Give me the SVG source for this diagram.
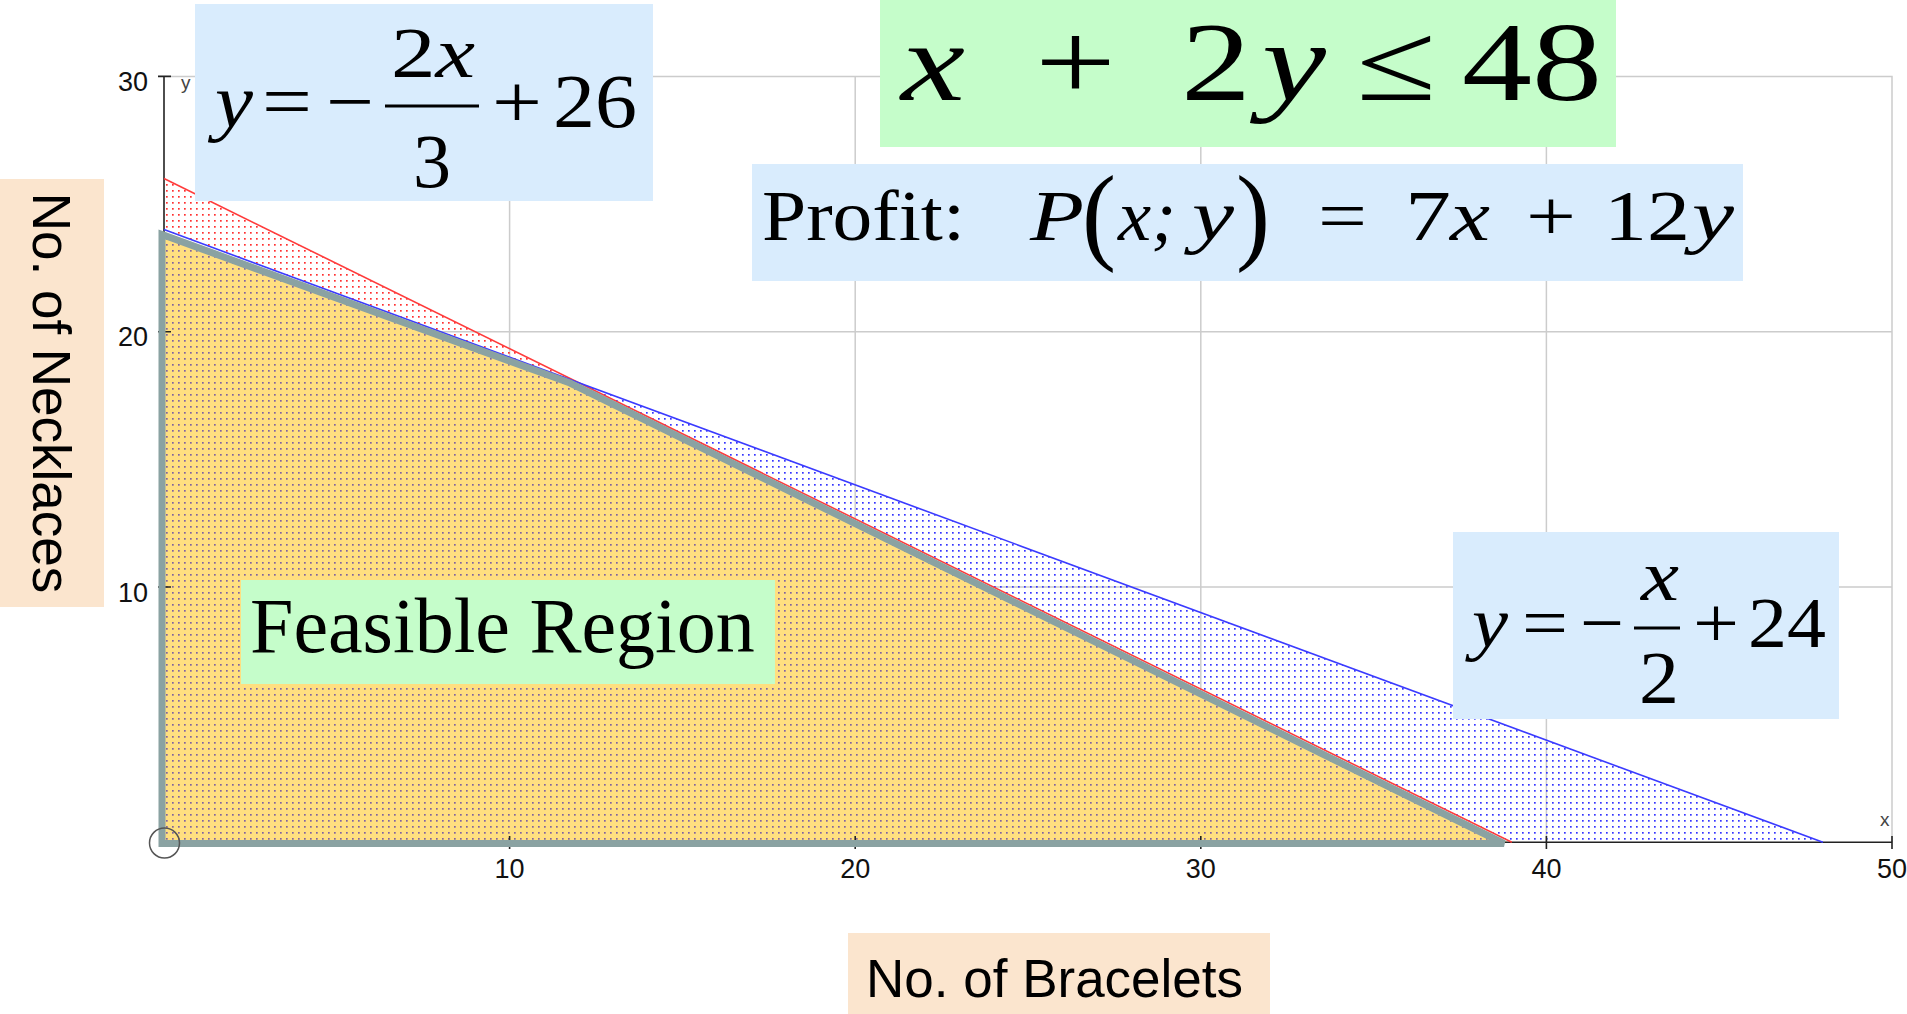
<svg xmlns="http://www.w3.org/2000/svg" width="1907" height="1014" viewBox="0 0 1907 1014">
<style>
.grid{stroke:#cccccc;stroke-width:1.5;fill:none}
.axis{stroke:#222;stroke-width:1.6;fill:none}
.tick{font-family:"Liberation Sans",Arial,sans-serif;font-size:27px;fill:#111}
.axn{font-family:"Liberation Sans",Arial,sans-serif;font-size:19px;fill:#444}
.lab{font-family:"Liberation Sans",Arial,sans-serif;font-size:53px;fill:#000}
.m{font-family:"Liberation Serif","Times New Roman",serif;fill:#000}
.i{font-style:italic}
.bluebox{fill:#d9ecfd}
.greenbox{fill:#c5fdca}
.peach{fill:#fbe5ce}
</style>
<defs>
<pattern id="dotR" x="164" y="842" width="6" height="6" patternUnits="userSpaceOnUse"><rect x="2" y="2" width="1.7" height="1.7" fill="#ff3030"/></pattern>
<pattern id="dotB" x="164" y="842" width="6" height="6" patternUnits="userSpaceOnUse"><rect x="2" y="2" width="1.7" height="1.7" fill="#3535ff"/></pattern>
<pattern id="dotP" x="164" y="842" width="6" height="6" patternUnits="userSpaceOnUse"><rect x="2" y="2" width="1.7" height="1.7" fill="#80639f"/></pattern>
</defs>
<rect width="1907" height="1014" fill="#ffffff"/>

<g id="grid">
<path class="grid" d="M171 76.4H1892V842.3M164 331.7H1892M164 587H1892M509.6 76.4V842.3M855.2 76.4V842.3M1200.8 76.4V842.3M1546.4 76.4V842.3"/>
</g>

<g id="regions">
<polygon id="feasible-fill" points="164,842.3 164,232 570,381 1508,842.3" fill="#ffdf80"/>
<polygon points="164,842.3 164,232 570,381 1508,842.3" fill="url(#dotP)"/>
<polygon id="red-region" points="164,178.5 164,229.6 578.7,382.8" fill="url(#dotR)"/>
<polygon id="blue-region" points="578.7,382.8 1822.9,842.3 1511.8,842.3" fill="url(#dotB)"/>
</g>

<g id="axes">
<path class="axis" d="M164 76.4V842.3H1892"/>
<path class="axis" d="M158 76.4H171M158 331.7H171M158 587H171M509.6 836V849M855.2 836V849M1200.8 836V849M1546.4 836V849M1892 836V849"/>
<text class="tick" x="148" y="91" text-anchor="end">30</text>
<text class="tick" x="148" y="346.3" text-anchor="end">20</text>
<text class="tick" x="148" y="601.6" text-anchor="end">10</text>
<text class="tick" x="509.6" y="878" text-anchor="middle">10</text>
<text class="tick" x="855.2" y="878" text-anchor="middle">20</text>
<text class="tick" x="1200.8" y="878" text-anchor="middle">30</text>
<text class="tick" x="1546.4" y="878" text-anchor="middle">40</text>
<text class="tick" x="1892" y="878" text-anchor="middle">50</text>
<text class="axn" x="1880" y="826">x</text>
<text class="axn" x="181" y="89">y</text>
</g>

<g id="lines">
<line id="red-line" x1="164" y1="178.5" x2="1511.8" y2="842.3" stroke="#ff3b3b" stroke-width="1.6"/>
<line id="blue-line" x1="164" y1="229.6" x2="1822.9" y2="842.3" stroke="#3b3bff" stroke-width="1.6"/>
<path id="feasible-border" d="M162 843.5L162 234.5L570 383L1504 843.5Z" fill="none" stroke="#8aa2a2" stroke-width="7"/>
<circle cx="164.5" cy="843" r="15" fill="none" stroke="#555" stroke-width="1.5"/>
</g>

<g id="eq-top-left">
<rect class="bluebox" x="195" y="4" width="458" height="197"/>
<text class="m i" x="215" y="127" font-size="76" textLength="38" lengthAdjust="spacingAndGlyphs">y</text>
<text class="m" x="262" y="127" font-size="76" textLength="50" lengthAdjust="spacingAndGlyphs">=</text>
<text class="m" x="326" y="127" font-size="76" textLength="48" lengthAdjust="spacingAndGlyphs">−</text>
<line x1="385" y1="106" x2="479" y2="106" stroke="#000" stroke-width="3"/>
<text class="m" x="391" y="77" font-size="72" textLength="84" lengthAdjust="spacingAndGlyphs">2<tspan class="i">x</tspan></text>
<text class="m" x="413" y="187" font-size="76" textLength="38" lengthAdjust="spacingAndGlyphs">3</text>
<text class="m" x="492" y="127" font-size="76" textLength="50" lengthAdjust="spacingAndGlyphs">+</text>
<text class="m" x="553" y="127" font-size="76" textLength="84" lengthAdjust="spacingAndGlyphs">26</text>
</g>

<g id="eq-constraint">
<rect class="greenbox" x="880" y="0" width="736" height="147"/>
<text class="m i" x="901" y="100" font-size="112" textLength="64" lengthAdjust="spacingAndGlyphs">x</text>
<text class="m" x="1035" y="100" font-size="112" textLength="81" lengthAdjust="spacingAndGlyphs">+</text>
<text class="m" x="1181" y="100" font-size="112" textLength="70" lengthAdjust="spacingAndGlyphs">2</text>
<text class="m i" x="1262" y="100" font-size="112" textLength="64" lengthAdjust="spacingAndGlyphs">y</text>
<text class="m" x="1356" y="100" font-size="112" textLength="80" lengthAdjust="spacingAndGlyphs">≤</text>
<text class="m" x="1462" y="100" font-size="112" textLength="140" lengthAdjust="spacingAndGlyphs">48</text>
</g>

<g id="eq-profit">
<rect class="bluebox" x="752" y="164" width="991" height="117"/>
<text class="m" x="762" y="240" font-size="72" textLength="203" lengthAdjust="spacingAndGlyphs">Profit:</text>
<text class="m i" x="1030" y="240" font-size="72" textLength="54" lengthAdjust="spacingAndGlyphs">P</text>
<text class="m" x="1082" y="250" font-size="108" textLength="34" lengthAdjust="spacingAndGlyphs">(</text>
<text class="m i" x="1118" y="240" font-size="72" textLength="58" lengthAdjust="spacingAndGlyphs">x;</text>
<text class="m i" x="1192" y="240" font-size="72" textLength="42" lengthAdjust="spacingAndGlyphs">y</text>
<text class="m" x="1236" y="250" font-size="108" textLength="34" lengthAdjust="spacingAndGlyphs">)</text>
<text class="m" x="1318" y="240" font-size="72" textLength="49" lengthAdjust="spacingAndGlyphs">=</text>
<text class="m" x="1405" y="240" font-size="72" textLength="46" lengthAdjust="spacingAndGlyphs">7</text>
<text class="m i" x="1450" y="240" font-size="72" textLength="40" lengthAdjust="spacingAndGlyphs">x</text>
<text class="m" x="1526" y="240" font-size="72" textLength="50" lengthAdjust="spacingAndGlyphs">+</text>
<text class="m" x="1604" y="240" font-size="72" textLength="86" lengthAdjust="spacingAndGlyphs">12</text>
<text class="m i" x="1692" y="240" font-size="72" textLength="42" lengthAdjust="spacingAndGlyphs">y</text>
</g>

<g id="eq-right">
<rect class="bluebox" x="1453" y="532" width="386" height="187"/>
<text class="m i" x="1472" y="647" font-size="72" textLength="36" lengthAdjust="spacingAndGlyphs">y</text>
<text class="m" x="1522" y="647" font-size="72" textLength="46" lengthAdjust="spacingAndGlyphs">=</text>
<text class="m" x="1580" y="647" font-size="72" textLength="44" lengthAdjust="spacingAndGlyphs">−</text>
<line x1="1634" y1="628" x2="1680" y2="628" stroke="#000" stroke-width="3"/>
<text class="m i" x="1641" y="600" font-size="72" textLength="38" lengthAdjust="spacingAndGlyphs">x</text>
<text class="m" x="1639" y="703" font-size="74" textLength="40" lengthAdjust="spacingAndGlyphs">2</text>
<text class="m" x="1693" y="647" font-size="72" textLength="46" lengthAdjust="spacingAndGlyphs">+</text>
<text class="m" x="1748" y="647" font-size="72" textLength="78" lengthAdjust="spacingAndGlyphs">24</text>
</g>

<g id="feasible-label">
<rect class="greenbox" x="241" y="580" width="534" height="104"/>
<text class="m" x="250" y="652" font-size="78">Feasible Region</text>
</g>

<g id="y-label">
<rect class="peach" x="0" y="179" width="104" height="428"/>
<text class="lab" transform="translate(33,393) rotate(90)" text-anchor="middle">No. of Necklaces</text>
</g>

<g id="x-label">
<rect class="peach" x="848" y="933" width="422" height="81"/>
<text class="lab" x="866" y="997">No. of Bracelets</text>
</g>
</svg>
